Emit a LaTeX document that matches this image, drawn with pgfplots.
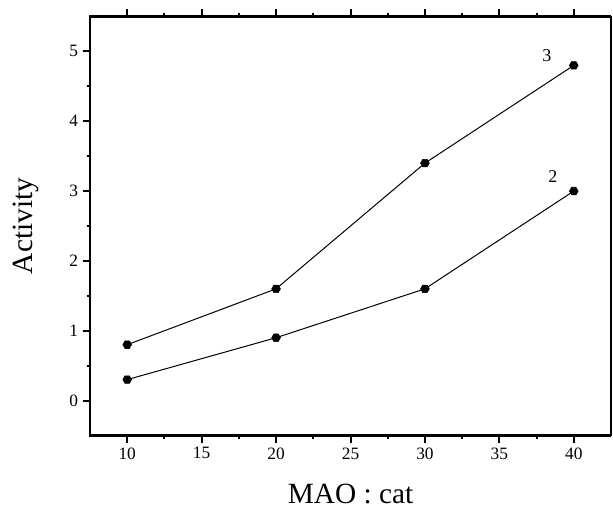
\documentclass[border=0pt]{standalone}
\usepackage{fontspec}
\setmainfont{Liberation Serif}
\usepackage{pgfplots}
\pgfplotsset{compat=1.18}

\pgfdeclareplotmark{hex}{%
  \pgfpathmoveto{\pgfqpointpolar{0}{\pgfplotmarksize}}%
  \pgfpathlineto{\pgfqpointpolar{60}{\pgfplotmarksize}}%
  \pgfpathlineto{\pgfqpointpolar{120}{\pgfplotmarksize}}%
  \pgfpathlineto{\pgfqpointpolar{180}{\pgfplotmarksize}}%
  \pgfpathlineto{\pgfqpointpolar{240}{\pgfplotmarksize}}%
  \pgfpathlineto{\pgfqpointpolar{300}{\pgfplotmarksize}}%
  \pgfpathclose
  \pgfusepathqfillstroke}

\pgfplotsset{
  frame/.style={
    scale only axis,
    width=390.75pt, height=314.25pt,
    xmin=7.5, xmax=42.5, ymin=-0.5, ymax=5.5,
    xtick={10,15,...,40}, ytick={0,1,...,5},
    minor x tick num=1, minor y tick num=1,
    tick align=outside,
    major tick length=5.5pt, minor tick length=2.5pt,
    every tick/.style={black, line width=1.5pt},
  },
}

\begin{document}
\begin{tikzpicture}
\begin{axis}[
  frame,
  xtick pos=left, ytick pos=left,
  axis line style={line width=0.8pt},
  tick label style={font=\fontsize{13}{15}\selectfont},
  /pgf/number format/assume math mode=true,
  xlabel={MAO : cat}, ylabel={Activity},
  label style={font=\fontsize{22}{24}\selectfont},
  xlabel style={at={(rel axis cs:0.5,0)}, anchor=base, yshift=-51pt},
  ylabel style={at={(rel axis cs:0,0.5)}, anchor=base, yshift=43.3pt},
  clip=false,
]
% page extent
\path (rel axis cs:0,0) ++(-67.5pt,-54pt);
\path (rel axis cs:1,1) ++(1.5pt,11.25pt);
\draw[line width=2.1pt] (rel axis cs:1,1) -- (rel axis cs:0,1) -- (rel axis cs:0,0) -- (rel axis cs:1,0);
\addplot[black, line width=0.75pt, mark=hex, mark size=3.3pt, mark options={fill=black, line width=0.4pt}]
  coordinates {(10,0.8) (20,1.6) (30,3.4) (40,4.8)};
\addplot[black, line width=0.75pt, mark=hex, mark size=3.3pt, mark options={fill=black, line width=0.4pt}]
  coordinates {(10,0.3) (20,0.9) (30,1.6) (40,3.0)};
\node[font=\fontsize{13.5}{15}\selectfont] at (axis cs:38.2,4.94) {3};
\node[font=\fontsize{13.5}{15}\selectfont] at (axis cs:38.6,3.21) {2};
\end{axis}
\begin{axis}[
  frame,
  xtick pos=right, ytick=\empty,
  xticklabels={},
  axis line style={draw=none},
]
\end{axis}
\end{tikzpicture}
\end{document}
